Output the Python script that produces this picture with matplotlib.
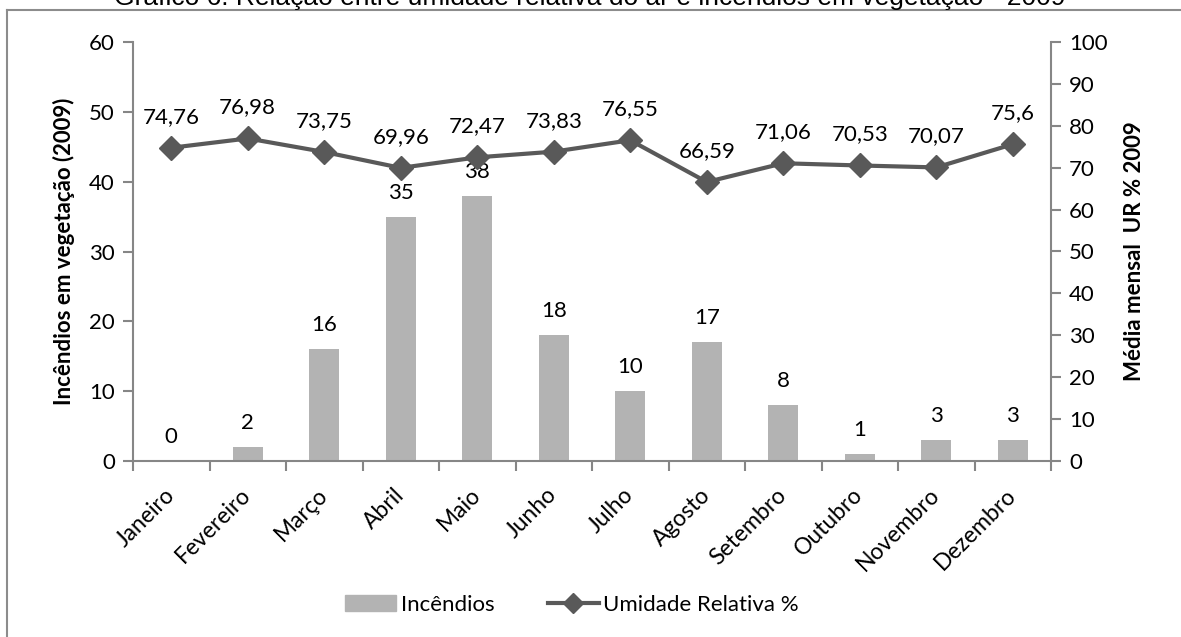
import matplotlib
matplotlib.use("Agg")
import matplotlib.pyplot as plt
from matplotlib.patches import Rectangle
from matplotlib.lines import Line2D
import numpy as np

months = ["Janeiro", "Fevereiro", "Março", "Abril", "Maio", "Junho", "Julho",
          "Agosto", "Setembro", "Outubro", "Novembro", "Dezembro"]
incendios = [0, 2, 16, 35, 38, 18, 10, 17, 8, 1, 3, 3]
umidade = [74.76, 76.98, 73.75, 69.96, 72.47, 73.83, 76.55, 66.59, 71.06, 70.53, 70.07, 75.6]
title = "Gráfico 6: Relação entre umidade relativa do ar e incêndios em vegetação - 2009"

FONT = ["Lato", "DejaVu Sans"]
plt.rcParams['font.family'] = FONT
FS = 16

W, H = 1181, 637
fig = plt.figure(figsize=(W / 100, H / 100), dpi=100)
fig.patch.set_facecolor("white")

# border (left and top visible)
fig.add_artist(Line2D([6.5 / W, 6.5 / W], [-0.1, 1 - 10 / H], color="#8c8c8c", lw=1.5,
                      transform=fig.transFigure))
fig.add_artist(Line2D([6.5 / W, 1.1], [1 - 10 / H, 1 - 10 / H], color="#8c8c8c", lw=1.5,
                      transform=fig.transFigure))

fig.text(590 / W, 1 - 5 / H, title, ha="center", va="baseline", fontsize=19,
         family=["Liberation Sans", "DejaVu Sans"], color="black")

left, right, top, bottom = 133, 1051, 42, 461
ax = fig.add_axes([left / W, 1 - bottom / H, (right - left) / W, (bottom - top) / H])
ax2 = ax.twinx()

x = np.arange(len(months))
axis_col = "#868686"

ax.bar(x, incendios, width=0.39, color="#b3b3b3", zorder=2)
ax.set_xlim(-0.5, len(months) - 0.5)
ax.set_ylim(0, 60)
ax.set_yticks(range(0, 61, 10))
ax.set_xticks(x)
ax.set_xticklabels(months, rotation=45, ha="right", va="center", rotation_mode="anchor",
                   fontsize=16.5)
ax.set_xticks(np.arange(-0.5, len(months)), minor=True)
ax.tick_params(axis="x", which="major", length=0, pad=22)
ax.tick_params(axis="x", which="minor", length=7, color=axis_col, width=1.5, direction="out")
ax.tick_params(axis="y", length=7, color=axis_col, width=1.5, labelsize=FS, pad=6)
for s in ["top", "right"]:
    ax.spines[s].set_visible(False)
for s in ["left", "bottom"]:
    ax.spines[s].set_color(axis_col)
    ax.spines[s].set_linewidth(1.5)
ax.set_ylabel("Incêndios em vegetação (2009)", fontsize=FS, fontweight="bold", labelpad=10)

for xi, v in zip(x, incendios):
    ax.text(xi, v + 2.0, str(v), ha="center", va="bottom", fontsize=FS)

ax2.plot(x, umidade, color="#595959", lw=3, marker="D", markersize=12, zorder=3)
ax2.set_ylim(0, 100)
ax2.set_yticks(range(0, 101, 10))
ax2.tick_params(axis="y", length=7, color=axis_col, width=1.5, labelsize=FS, pad=6)
for s in ["top", "left", "bottom"]:
    ax2.spines[s].set_visible(False)
ax2.spines["right"].set_color(axis_col)
ax2.spines["right"].set_linewidth(1.5)
ax2.set_ylabel("Média mensal  UR % 2009", fontsize=FS, fontweight="bold", labelpad=12)

for xi, v in zip(x, umidade):
    ax2.text(xi, v + 5.0, f"{v:g}".replace(".", ","), ha="center", va="bottom", fontsize=FS)

handles = [Rectangle((0, 0), 1, 1, color="#b3b3b3"),
           Line2D([], [], color="#595959", lw=3, marker="D", markersize=10)]
fig.legend(handles, ["Incêndios", "Umidade Relativa %"], loc="center",
           bbox_to_anchor=(572 / W, 1 - 605 / H), ncol=2, frameon=False, fontsize=FS,
           handlelength=2.3, columnspacing=2.4, handletextpad=0.2)

fig.savefig("out.png", dpi=100, facecolor="white")
